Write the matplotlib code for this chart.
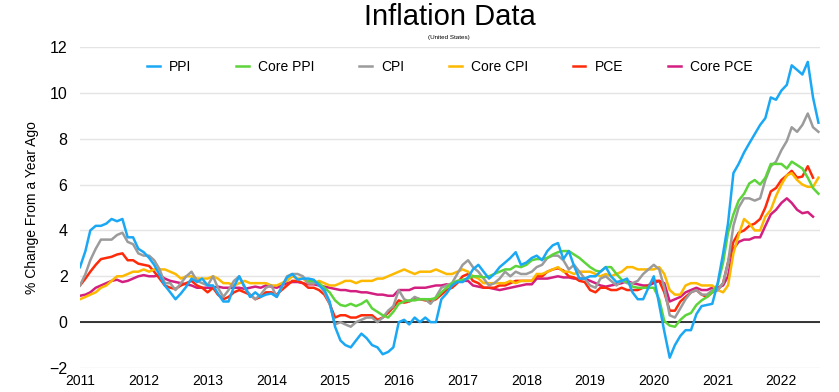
"""
US inflation measures, year-over-year % change, Jan 2011 - Aug 2022.
"""

import matplotlib
matplotlib.use("Agg")
import matplotlib.dates as mdates
import matplotlib.pyplot as plt
import pandas as pd

plt.rcParams["font.family"] = ["Liberation Sans", "DejaVu Sans"]

START = "2011-01-01"
CORE_PPI_START = "2014-08-01"

ppi = [
    2.4, 3.1, 4.0, 4.2, 4.2, 4.3, 4.5, 4.4, 4.5, 3.7, 3.7, 3.2,
    3.05, 2.8, 2.5, 2.05, 1.6, 1.3, 1.0, 1.25, 1.55, 1.9, 1.75, 1.9,
    1.6, 1.6, 1.25, 0.9, 0.9, 1.55, 2.0, 1.55, 1.1, 1.3, 1.1, 1.2,
    1.25, 1.1, 1.55, 1.95, 2.1, 1.85, 1.9, 1.9, 1.85, 1.6, 1.4, 0.9,
    -0.2, -0.8, -1.0, -1.1, -0.8, -0.5, -0.7, -1.0, -1.1, -1.4, -1.3, -1.1,
    0.0, 0.1, -0.1, 0.2, 0.0, 0.2, 0.0, 0.0, 1.0, 1.25, 1.6, 1.75,
    1.75, 1.95, 2.3, 2.5, 2.2, 1.9, 2.1, 2.4, 2.6, 2.8, 3.05, 2.5,
    2.6, 2.8, 2.9, 2.7, 3.1, 3.35, 3.45, 2.75, 3.1, 2.45, 1.9, 1.9,
    2.0, 2.0, 2.2, 2.4, 2.0, 1.75, 1.8, 1.9, 1.3, 1.0, 1.0, 1.5,
    2.0, 0.75, -0.4, -1.55, -1.0, -0.6, -0.35, -0.35, 0.35, 0.7, 0.75, 0.8,
    1.7, 3.0, 4.3, 6.5, 6.9, 7.4, 7.8, 8.2, 8.6, 8.9, 9.8, 9.7,
    10.1, 10.35, 11.2, 11.0, 10.8, 11.35, 9.8, 8.7,
]

# core PPI (less food, energy, trade) only starts Aug 2014
core_ppi = [
    1.8, 1.8, 1.7, 1.5, 1.3,
    0.95, 0.75, 0.7, 0.8, 0.7, 0.8, 0.95, 0.6, 0.45, 0.3, 0.2, 0.45,
    0.8, 0.9, 0.95, 0.95, 1.0, 1.0, 1.0, 1.05, 1.3, 1.5, 1.7, 1.8,
    1.85, 1.9, 2.0, 2.0, 1.95, 2.0, 2.1, 2.2, 2.3, 2.3, 2.45, 2.4,
    2.5, 2.7, 2.75, 2.75, 2.8, 2.95, 3.05, 3.1, 3.1, 2.95, 2.8, 2.6,
    2.4, 2.25, 2.2, 2.4, 2.4, 2.1, 1.85, 1.75, 1.55, 1.5, 1.5, 1.5,
    1.5, 1.0, 0.05, -0.15, -0.2, 0.1, 0.3, 0.4, 0.75, 0.95, 1.1, 1.3,
    1.65, 2.6, 3.9, 4.7, 5.3, 5.6, 6.05, 6.2, 6.0, 6.3, 6.9, 6.9,
    6.9, 6.7, 7.0, 6.85, 6.7, 6.3, 5.85, 5.6,
]

cpi = [
    1.6, 2.1, 2.7, 3.2, 3.6, 3.6, 3.6, 3.8, 3.9, 3.5, 3.4, 3.0,
    2.9, 2.9, 2.7, 2.3, 1.7, 1.7, 1.4, 1.7, 2.0, 2.2, 1.8, 1.7,
    1.6, 2.0, 1.5, 1.1, 1.4, 1.8, 2.0, 1.5, 1.2, 1.0, 1.2, 1.5,
    1.6, 1.1, 1.5, 2.0, 2.1, 2.1, 2.0, 1.7, 1.7, 1.7, 1.3, 0.8,
    -0.1, 0.0, -0.1, -0.2, 0.0, 0.1, 0.2, 0.2, 0.0, 0.2, 0.5, 0.7,
    1.4, 1.0, 0.9, 1.1, 1.0, 1.0, 0.8, 1.1, 1.5, 1.6, 1.7, 2.1,
    2.5, 2.7, 2.4, 2.2, 1.9, 1.6, 1.7, 1.9, 2.2, 2.0, 2.2, 2.1,
    2.1, 2.2, 2.4, 2.5, 2.8, 2.9, 2.9, 2.7, 2.3, 2.5, 2.2, 1.9,
    1.6, 1.5, 1.9, 2.0, 1.8, 1.6, 1.8, 1.7, 1.7, 1.8, 2.1, 2.3,
    2.5, 2.3, 1.5, 0.3, 0.2, 0.6, 1.0, 1.3, 1.4, 1.2, 1.2, 1.4,
    1.4, 1.7, 2.6, 4.2, 5.0, 5.4, 5.4, 5.3, 5.4, 6.2, 6.8, 7.0,
    7.5, 7.9, 8.5, 8.3, 8.6, 9.1, 8.5, 8.3,
]

core_cpi = [
    1.0, 1.1, 1.2, 1.3, 1.5, 1.6, 1.8, 2.0, 2.0, 2.1, 2.2, 2.2,
    2.3, 2.2, 2.3, 2.3, 2.3, 2.2, 2.1, 1.9, 2.0, 2.0, 1.9, 1.9,
    1.9, 2.0, 1.9, 1.7, 1.7, 1.6, 1.7, 1.8, 1.7, 1.7, 1.7, 1.7,
    1.6, 1.6, 1.7, 1.8, 2.0, 1.9, 1.9, 1.7, 1.7, 1.8, 1.7, 1.6,
    1.6, 1.7, 1.8, 1.8, 1.7, 1.8, 1.8, 1.8, 1.9, 1.9, 2.0, 2.1,
    2.2, 2.3, 2.2, 2.1, 2.2, 2.2, 2.2, 2.3, 2.2, 2.1, 2.1, 2.2,
    2.3, 2.2, 2.0, 1.9, 1.7, 1.7, 1.7, 1.7, 1.7, 1.8, 1.7, 1.8,
    1.8, 1.8, 2.1, 2.1, 2.2, 2.3, 2.4, 2.2, 2.2, 2.1, 2.2, 2.2,
    2.2, 2.1, 2.0, 2.1, 2.0, 2.1, 2.2, 2.4, 2.4, 2.3, 2.3, 2.3,
    2.3, 2.4, 2.1, 1.4, 1.2, 1.2, 1.6, 1.7, 1.7, 1.6, 1.6, 1.6,
    1.4, 1.3, 1.6, 3.0, 3.8, 4.5, 4.3, 4.0, 4.0, 4.6, 4.9, 5.5,
    6.0, 6.4, 6.5, 6.2, 6.0, 5.9, 5.9, 6.3,
]

# PCE series end one month earlier (Jul 2022)
pce = [
    1.6, 1.9, 2.2, 2.5, 2.75, 2.8, 2.85, 2.95, 3.0, 2.7, 2.7, 2.55,
    2.5, 2.45, 2.2, 1.9, 1.6, 1.5, 1.45, 1.6, 1.7, 1.8, 1.6, 1.5,
    1.3, 1.5, 1.2, 1.0, 1.1, 1.3, 1.4, 1.3, 1.2, 1.0, 1.1, 1.3,
    1.3, 1.2, 1.4, 1.6, 1.8, 1.8, 1.7, 1.5, 1.5, 1.4, 1.2, 0.8,
    0.2, 0.3, 0.3, 0.2, 0.2, 0.3, 0.3, 0.3, 0.1, 0.2, 0.4, 0.65,
    0.95, 0.85, 0.9, 1.05, 1.0, 0.95, 0.9, 1.0, 1.2, 1.4, 1.5, 1.7,
    2.0, 2.1, 1.8, 1.7, 1.5, 1.5, 1.5, 1.6, 1.6, 1.7, 1.8, 1.8,
    1.8, 1.8, 2.0, 2.0, 2.2, 2.3, 2.35, 2.25, 2.0, 1.95, 1.8, 1.75,
    1.4, 1.3, 1.5, 1.5, 1.4, 1.4, 1.5, 1.4, 1.4, 1.4, 1.5, 1.6,
    1.8, 1.8, 1.3, 0.5, 0.5, 0.9, 1.1, 1.3, 1.4, 1.2, 1.1, 1.3,
    1.4, 1.7, 2.6, 3.5, 3.9, 4.0, 4.2, 4.3, 4.5, 5.0, 5.7, 5.85,
    6.2, 6.4, 6.6, 6.3, 6.35, 6.8, 6.3,
]

core_pce = [
    1.15, 1.2, 1.3, 1.5, 1.6, 1.7, 1.8, 1.85, 1.75, 1.8, 1.9, 2.0,
    2.05, 2.0, 2.0, 2.05, 1.9, 1.8, 1.75, 1.7, 1.65, 1.6, 1.5, 1.5,
    1.5, 1.5, 1.55, 1.5, 1.5, 1.5, 1.5, 1.45, 1.5, 1.55, 1.5, 1.6,
    1.55, 1.5, 1.6, 1.7, 1.75, 1.75, 1.7, 1.65, 1.65, 1.6, 1.55, 1.5,
    1.45, 1.4, 1.4, 1.35, 1.35, 1.3, 1.3, 1.25, 1.2, 1.2, 1.15, 1.15,
    1.4, 1.4, 1.4, 1.5, 1.5, 1.5, 1.55, 1.6, 1.6, 1.65, 1.6, 1.75,
    1.8, 1.8, 1.6, 1.55, 1.5, 1.5, 1.45, 1.4, 1.45, 1.5, 1.55, 1.6,
    1.65, 1.65, 1.9, 1.9, 1.9, 1.95, 2.0, 1.95, 1.95, 1.9, 1.9, 1.9,
    1.8, 1.7, 1.6, 1.55, 1.6, 1.65, 1.7, 1.8, 1.7, 1.65, 1.6, 1.6,
    1.7, 1.8, 1.7, 0.9, 1.0, 1.1, 1.3, 1.4, 1.5, 1.4, 1.4, 1.5,
    1.5, 1.6, 2.0, 3.2, 3.5, 3.6, 3.6, 3.7, 3.7, 4.2, 4.7, 4.9,
    5.2, 5.4, 5.2, 4.9, 4.75, 4.8, 4.6,
]

series = [
    ("PPI", ppi, START, "#1aa8f5"),
    ("Core PPI", core_ppi, CORE_PPI_START, "#5dd43a"),
    ("CPI", cpi, START, "#9b9b9b"),
    ("Core CPI", core_cpi, START, "#fdb800"),
    ("PCE", pce, START, "#fe2a0a"),
    ("Core PCE", core_pce, START, "#d31f80"),
]

fig = plt.figure(figsize=(8.39, 3.92), dpi=100)
ax = fig.add_axes([80 / 839, 1 - 368 / 392, 740 / 839, 321 / 392])

for i, (label, values, start, color) in enumerate(series):
    dates = pd.date_range(start, periods=len(values), freq="MS")
    ax.plot(dates, values, color=color, linewidth=1.8, label=label,
            zorder=10 - i)

ax.axhline(0, color="black", linewidth=1.1, zorder=2)

ax.set_ylim(-2, 12)
ax.set_xlim(pd.Timestamp("2011-01-01"), pd.Timestamp("2022-08-10"))
ax.set_yticks(range(-2, 13, 2))
ax.xaxis.set_major_locator(mdates.YearLocator())
ax.xaxis.set_major_formatter(mdates.DateFormatter("%Y"))
ax.grid(axis="y", color="#e4e4e4", linewidth=1, zorder=1)
ax.set_axisbelow(True)
for spine in ax.spines.values():
    spine.set_visible(False)
ax.tick_params(axis="y", length=0, pad=9, labelsize=11.5)
ax.tick_params(axis="x", length=0, pad=4, labelsize=10)

ax.set_ylabel("% Change From a Year Ago", fontsize=10)
ax.yaxis.set_label_coords(-0.055, 0.5)

ax.legend(ncol=6, loc="center", bbox_to_anchor=(0.5, 0.938), frameon=False,
          fontsize=10, handlelength=0.9, handletextpad=0.7, columnspacing=3.2)

fig.text(449.5 / 839, 1 - 25 / 392, "Inflation Data", fontsize=21,
         ha="center", va="baseline")
fig.text(449 / 839, 1 - 38 / 392, "(United States)", fontsize=4.5,
         ha="center", va="center")

fig.savefig("out.png", dpi=100)
